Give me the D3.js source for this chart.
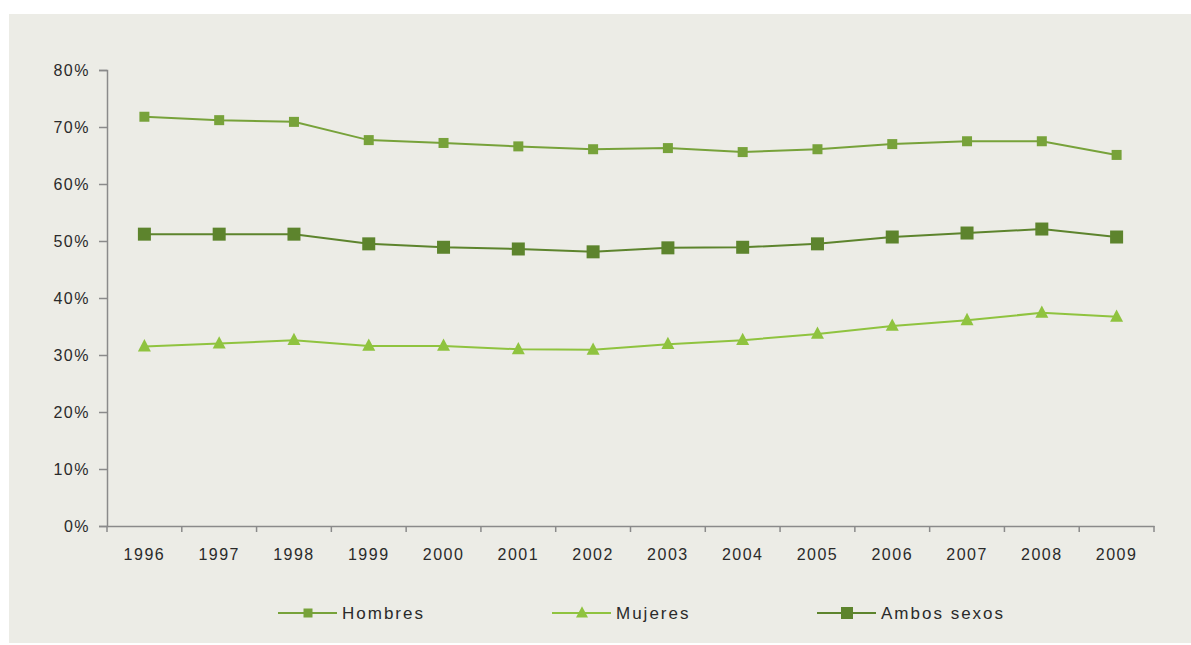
<!DOCTYPE html>
<html>
<head>
<meta charset="utf-8">
<script src="https://cdn.jsdelivr.net/npm/d3@7"></script>
<style>
  html, body { margin: 0; padding: 0; background: #ffffff; }
  svg { display: block; }
  text { font-family: "Liberation Sans", "DejaVu Sans", sans-serif; fill: #2a2a2a; }
</style>
</head>
<body>
<svg id="chart" width="1191" height="645"></svg>
<script>
// Years on the category axis
const years = ["1996","1997","1998","1999","2000","2001","2002","2003","2004","2005","2006","2007","2008","2009"];

// Rates per series (fraction of 1)
const hombres = [0.718, 0.712, 0.709, 0.677, 0.672, 0.666, 0.661, 0.663, 0.656, 0.661, 0.670, 0.675, 0.675, 0.651];
const mujeres = [0.315, 0.320, 0.326, 0.316, 0.316, 0.310, 0.309, 0.319, 0.326, 0.337, 0.351, 0.361, 0.374, 0.367];
const ambos   = [0.512, 0.512, 0.512, 0.495, 0.489, 0.486, 0.481, 0.488, 0.489, 0.495, 0.507, 0.514, 0.521, 0.507];

// Y axis ticks
const yTicks = [0, 0.1, 0.2, 0.3, 0.4, 0.5, 0.6, 0.7, 0.8];

const seriesNames = ["Hombres", "Mujeres", "Ambos sexos"];

const svg = d3.select("#chart");

// Panel background
svg.append("rect")
  .attr("x", 9).attr("y", 14)
  .attr("width", 1182).attr("height", 629)
  .attr("fill", "#ecece6");

const x = d3.scaleBand().domain(years).range([107, 1154]).padding(0);
const y = d3.scaleLinear().domain([0, 0.8]).range([526, 70]);
const cx = d => x(d) + x.bandwidth() / 2;

const axisFont = "'Liberation Sans', sans-serif";

// Y axis
const yAxis = svg.append("g").attr("transform", "translate(107,0)")
  .call(d3.axisLeft(y).tickValues(yTicks).tickFormat(d3.format(".0%")).tickSize(8).tickPadding(9));
yAxis.select(".domain").attr("stroke", "#8a8a8a").attr("stroke-width", 1.5);
yAxis.selectAll(".tick line").attr("stroke", "#8a8a8a").attr("stroke-width", 1.5);
yAxis.selectAll(".tick text")
  .attr("font-size", 16).attr("letter-spacing", 1.5).attr("fill", "#2a2a2a")
  .attr("font-family", axisFont);

// X axis: baseline with tick marks at band boundaries
const xAxis = svg.append("g").attr("transform", "translate(0,526)")
  .call(d3.axisBottom(x).tickSize(0).tickPadding(23));
xAxis.select(".domain").attr("stroke", "#8a8a8a").attr("stroke-width", 1.5);
xAxis.selectAll(".tick text")
  .attr("font-size", 16).attr("letter-spacing", 1.5).attr("fill", "#2a2a2a")
  .attr("font-family", axisFont);
const bounds = years.map(d => x(d)).concat([x(years[years.length - 1]) + x.bandwidth()]);
xAxis.selectAll("line.bound").data(bounds).join("line")
  .attr("class", "bound")
  .attr("x1", d => d).attr("x2", d => d)
  .attr("y1", 0).attr("y2", 6)
  .attr("stroke", "#8a8a8a").attr("stroke-width", 1.5);

const line = d3.line().x((d, i) => cx(years[i])).y(d => y(d));

const series = [
  { name: seriesNames[0], values: hombres, color: "#77a23a", marker: "square", size: 10 },
  { name: seriesNames[1], values: mujeres, color: "#8fc33f", marker: "triangle", size: 13 },
  { name: seriesNames[2], values: ambos,   color: "#5d842d", marker: "square", size: 13 }
];

function drawMarker(g, kind, size, color) {
  if (kind === "square") {
    g.append("rect")
      .attr("x", -size / 2).attr("y", -size / 2)
      .attr("width", size).attr("height", size)
      .attr("fill", color);
  } else {
    const h = size * 0.95;
    g.append("path")
      .attr("d", `M0,${-h * 0.6}L${size / 2},${h * 0.4}L${-size / 2},${h * 0.4}Z`)
      .attr("fill", color);
  }
}

series.forEach(s => {
  svg.append("path")
    .datum(s.values)
    .attr("d", line)
    .attr("fill", "none")
    .attr("stroke", s.color)
    .attr("stroke-width", 2);
  s.values.forEach((v, i) => {
    const g = svg.append("g").attr("transform", `translate(${cx(years[i])},${y(v)})`);
    drawMarker(g, s.marker, s.size, s.color);
  });
});

// Legend
const legendX = [278, 552, 817];
series.forEach((s, i) => {
  const g = svg.append("g").attr("transform", `translate(${legendX[i]},613)`);
  g.append("line").attr("x1", 0).attr("x2", 59).attr("y1", 0).attr("y2", 0)
    .attr("stroke", s.color).attr("stroke-width", 2);
  const m = g.append("g").attr("transform", "translate(30,0)");
  drawMarker(m, s.marker, s.marker === "square" ? (i === 2 ? 12 : 9) : 12, s.color);
  g.append("text").attr("x", 64).attr("y", 6)
    .attr("font-size", 17).attr("letter-spacing", 2)
    .text(s.name);
});
</script>
</body>
</html>
